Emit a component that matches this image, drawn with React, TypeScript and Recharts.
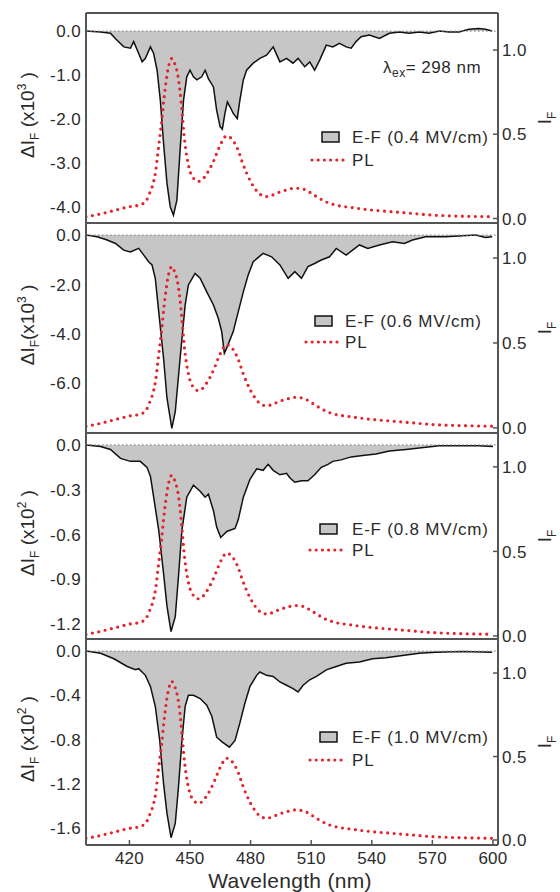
import React from 'react';
import { ComposedChart, Area, Line, XAxis, YAxis, ReferenceLine } from 'recharts';

// ---------- data ----------
const plWl = [398.5, 405, 410, 415, 420, 425, 428, 430, 432, 433, 434, 435, 436, 437, 438, 439, 440, 441, 442, 443, 444, 445, 446, 447, 448, 449, 450, 452, 454, 456, 458, 460, 462, 464, 466, 468, 470, 472, 474, 476, 478, 480, 482, 484, 486, 488, 490, 494, 498, 502, 506, 510, 514, 518, 522, 530, 540, 550, 560, 570, 580, 590, 600];
const plVals = [0.01, 0.025, 0.04, 0.055, 0.07, 0.08, 0.1, 0.15, 0.22, 0.28, 0.38, 0.48, 0.58, 0.7, 0.8, 0.88, 0.93, 0.95, 0.93, 0.9, 0.85, 0.76, 0.64, 0.5, 0.4, 0.33, 0.28, 0.235, 0.22, 0.23, 0.26, 0.3, 0.35, 0.41, 0.46, 0.49, 0.48, 0.45, 0.4, 0.33, 0.27, 0.22, 0.18, 0.15, 0.135, 0.13, 0.135, 0.155, 0.17, 0.18, 0.175, 0.15, 0.12, 0.095, 0.08, 0.065, 0.05, 0.04, 0.03, 0.02, 0.015, 0.012, 0.01];

const wl04 = [398.5, 405.7, 410.6, 413, 417.2, 420.5, 422.1, 424.6, 426.3, 427.9, 430.4, 432, 433.7, 435.3, 436.9, 438.6, 440.2, 441.8, 443.5, 445.1, 446.8, 448.4, 450, 451.7, 453.4, 455.8, 457.5, 459.1, 461.6, 463.2, 464.9, 466, 467.3, 468.5, 469.8, 471.4, 473.4, 474.7, 476.4, 478, 481.3, 484.6, 487.9, 491.2, 494.5, 497.8, 501, 503.5, 506.8, 509.3, 511.7, 514.2, 517.5, 520.7, 524, 527.3, 529.8, 532.2, 534.7, 538.8, 543.8, 548.7, 553.6, 558.6, 563.5, 568.4, 573.4, 578.3, 583.2, 588.1, 593, 596.3, 599.6];
const ef04 = [0, -0.02, -0.05, -0.17, -0.36, -0.39, -0.24, -0.51, -0.7, -0.62, -0.36, -0.51, -0.89, -1.57, -2.55, -3.46, -3.99, -4.18, -3.84, -2.7, -1.57, -1.04, -0.89, -1.04, -1.11, -1.04, -0.89, -1.08, -1.27, -1.8, -2.17, -2.23, -1.87, -1.61, -1.72, -1.87, -1.99, -1.57, -1.11, -0.89, -0.73, -0.62, -0.55, -0.36, -0.7, -0.62, -0.73, -0.62, -0.81, -0.7, -0.89, -0.66, -0.32, -0.36, -0.28, -0.36, -0.39, -0.24, -0.13, -0.09, -0.17, -0.05, -0.02, -0.05, -0.02, -0.05, 0, -0.02, -0.02, 0.04, 0.06, 0.04, 0];

const wl06 = [398.5, 404, 409, 413.1, 417.2, 420.5, 424.6, 427.1, 429.5, 431.2, 432.8, 434.5, 436.9, 438.6, 441, 442.7, 445.1, 447.6, 449.2, 452.5, 455, 458.3, 461.6, 464, 465.7, 467, 468.1, 471.4, 473.9, 476.4, 478.8, 481.3, 486.2, 490.4, 494.5, 498.6, 501.9, 505.2, 508.4, 511.7, 515, 519.1, 522.4, 527.3, 533.9, 538, 543.8, 550.3, 556.1, 560.2, 566.7, 576.6, 584.8, 591.4, 596.3, 599.6];
const ef06 = [0, -0.07, -0.2, -0.34, -0.61, -0.68, -0.54, -0.81, -1.08, -1.21, -1.75, -3.1, -4.99, -6.61, -7.83, -7.15, -4.99, -2.83, -2.02, -1.55, -1.75, -2.3, -2.83, -3.37, -3.91, -4.79, -4.59, -3.91, -3.1, -2.3, -1.62, -1.08, -0.74, -0.88, -1.21, -1.75, -1.48, -1.75, -1.28, -1.15, -1.01, -0.88, -0.54, -0.81, -0.4, -0.54, -0.4, -0.27, -0.34, -0.2, -0.07, -0.07, -0.03, 0, -0.1, -0.07];

const wl08 = [398.5, 405.7, 410.6, 415.6, 420.5, 425.4, 428.7, 430.4, 432, 434.5, 436.9, 438.6, 440.6, 442.7, 444.3, 446, 448.4, 451.7, 455, 457.5, 459.1, 461.6, 463.2, 465.2, 468.2, 472.3, 473.9, 476.4, 479.7, 483, 486.2, 488.7, 491.2, 494.5, 497.8, 499.4, 501.9, 505.2, 508.4, 511.7, 515, 518.3, 520.7, 524.8, 529.8, 535.5, 542.1, 548.7, 556.9, 563.5, 573.4, 583.2, 593, 600];
const ef08 = [0, -0.01, -0.03, -0.09, -0.11, -0.11, -0.15, -0.21, -0.35, -0.57, -0.86, -1.08, -1.25, -1.15, -0.88, -0.57, -0.35, -0.27, -0.31, -0.35, -0.33, -0.44, -0.55, -0.62, -0.58, -0.56, -0.5, -0.35, -0.23, -0.16, -0.17, -0.13, -0.17, -0.2, -0.19, -0.22, -0.25, -0.24, -0.24, -0.2, -0.15, -0.13, -0.11, -0.1, -0.08, -0.07, -0.06, -0.04, -0.03, -0.02, -0.005, -0.005, -0.005, -0.01];

const wl10 = [398.5, 405.7, 412.3, 418.9, 423, 424.6, 427.9, 430.4, 432.8, 435, 436.9, 438.6, 440.6, 442.7, 444.3, 446, 447.6, 449.2, 451.7, 455, 458.3, 460.8, 463.2, 465.7, 469.5, 472.3, 474.7, 477.2, 479.7, 483, 484.6, 487.9, 491.2, 494.5, 497.8, 501, 503.5, 506, 509.3, 512.6, 517.5, 522.4, 527.3, 533.9, 540.4, 547, 555.2, 563.5, 571.7, 584.8, 599.6];
const ef10 = [0, -0.02, -0.07, -0.14, -0.17, -0.16, -0.22, -0.32, -0.5, -0.81, -1.2, -1.47, -1.69, -1.56, -1.23, -0.81, -0.5, -0.4, -0.4, -0.43, -0.49, -0.59, -0.78, -0.82, -0.87, -0.81, -0.65, -0.47, -0.32, -0.22, -0.19, -0.22, -0.23, -0.28, -0.31, -0.34, -0.37, -0.31, -0.26, -0.23, -0.17, -0.14, -0.11, -0.1, -0.07, -0.06, -0.04, -0.02, -0.01, -0.005, -0.01];

const fieldLabels = ['0.4', '0.6', '0.8', '1.0'];
const leftTicks1 = [0, -1, -2, -3, -4];
const leftTicks2 = [0, -2, -4, -6];
const leftTicks3 = [0, -0.3, -0.6, -0.9, -1.2];
const leftTicks4 = [0, -0.4, -0.8, -1.2, -1.6];
const rightTicks = [0, 0.5, 1];
const innerXTicks = [400, 450, 500, 550, 600];
const bottomXTicks = [420, 450, 480, 510, 540, 570, 600];
const exponents = ['3', '3', '2', '2'];

// ---------- styles ----------
const FONT = '"Liberation Sans", Arial, Helvetica, sans-serif';
const TXT = '#2b2b2b';
const AX = '#555';
const RED = '#e4232b';
const GREY = '#c6c6c6';
const X_DOMAIN: [number, number] = [398.5, 602.5];

function buildRows(wl: number[], ef: number[]) {
  const m = new Map<number, any>();
  wl.forEach((x, i) => m.set(x, { x, ef: ef[i] }));
  plWl.forEach((x, i) => {
    const r = m.get(x) || { x };
    r.pl = plVals[i];
    m.set(x, r);
  });
  return Array.from(m.values()).sort((a, b) => a.x - b.x);
}

const panels = [
  { wl: wl04, ef: ef04, ticks: leftTicks1, leftDomain: [-4.36, 0.41], rightDomain: [-0.027, 1.22], top: 13, bottom: 223, space: true },
  { wl: wl06, ef: ef06, ticks: leftTicks2, leftDomain: [-8.02, 0.49], rightDomain: [-0.03, 1.206], top: 223, bottom: 433, space: false },
  { wl: wl08, ef: ef08, ticks: leftTicks3, leftDomain: [-1.3, 0.08], rightDomain: [-0.018, 1.2], top: 433, bottom: 639, space: true },
  { wl: wl10, ef: ef10, ticks: leftTicks4, leftDomain: [-1.756, 0.109], rightDomain: [-0.03, 1.204], top: 639, bottom: 845, space: true },
];

const legendPos = [
  { sw: 322, tx: 352, efY: 137, plY: 160, d0: 312, d1: 343 },
  { sw: 315, tx: 345, efY: 321, plY: 342, d0: 306, d1: 338 },
  { sw: 320, tx: 352, efY: 529, plY: 550, d0: 310, d1: 343 },
  { sw: 320, tx: 352, efY: 737, plY: 760, d0: 310, d1: 342 },
];

const textStyle = { fontFamily: FONT, fill: TXT } as const;

function LeftTick(p: any) {
  return (
    <text x={p.x} y={p.y} dy="0.36em" textAnchor="end" fontSize={17} letterSpacing={0.4} {...textStyle}>
      {Number(p.payload.value).toFixed(1)}
    </text>
  );
}

function RightTick(p: any) {
  return (
    <g>
      <line x1={p.x - 5} x2={p.x + 1} y1={p.y} y2={p.y} stroke={AX} strokeWidth={1.5} />
      <text x={p.x + 4} y={p.y} dy="0.36em" textAnchor="start" fontSize={17} letterSpacing={0.4} {...textStyle}>
        {Number(p.payload.value).toFixed(1)}
      </text>
    </g>
  );
}

function makeXTick(show: boolean) {
  return (p: any) => (
    <g>
      <line x1={p.x} x2={p.x} y1={p.y} y2={p.y - 5} stroke={AX} strokeWidth={1.5} />
      {show && (
        <text x={p.x} y={p.y + 19} textAnchor="middle" fontSize={17} letterSpacing={0.2} {...textStyle}>
          {p.payload.value}
        </text>
      )}
    </g>
  );
}

function makeLeftLabel(exp: string, space: boolean) {
  return (props: any) => {
    const vb = props.viewBox || {};
    const cy = (vb.y || 0) + (vb.height || 0) / 2 - 3;
    return (
      <text transform={`translate(34,${cy}) rotate(-90)`} textAnchor="middle" fontSize={19} {...textStyle}>
        ΔI<tspan dy={5} fontSize={12}>F</tspan>
        <tspan dy={-5}>{space ? ' (x10' : '(x10'}</tspan>
        <tspan dy={-8} fontSize={12}>{exp}</tspan>
        <tspan dy={8}>{' )'}</tspan>
      </text>
    );
  };
}

function rightLabel(props: any) {
  const vb = props.viewBox || {};
  const cy = (vb.y || 0) + (vb.height || 0) / 2;
  return (
    <text transform={`translate(551,${cy}) rotate(-90)`} textAnchor="middle" fontSize={19} {...textStyle}>
      I<tspan dy={5} fontSize={12}>F</tspan>
    </text>
  );
}

function xTitle(props: any) {
  const vb = props.viewBox || {};
  return (
    <text x={(vb.x || 0) + (vb.width || 0) / 2 - 2} y={(vb.y || 0) + 43} textAnchor="middle" fontSize={21} letterSpacing={0.3} {...textStyle}>
      Wavelength (nm)
    </text>
  );
}

function Panel({ idx }: { idx: number }) {
  const p = panels[idx];
  const last = idx === panels.length - 1;
  const rows = buildRows(p.wl, p.ef);
  const chartTop = p.top - 12;
  const plotH = p.bottom - p.top;
  const xh = last ? 47 : 0;
  const height = last ? 892 - chartTop : plotH + 24;
  const mb = last ? 0 : 12;
  return (
    <div style={{ position: 'absolute', left: 0, top: chartTop, width: 560, height }}>
      <ComposedChart width={560} height={height} data={rows} margin={{ top: 12, right: 12, bottom: mb, left: 10 }}>
        <XAxis
          dataKey="x"
          type="number"
          domain={X_DOMAIN}
          ticks={last ? bottomXTicks : innerXTicks}
          interval={0}
          allowDataOverflow
          height={xh}
          axisLine={{ stroke: AX, strokeWidth: 2 }}
          tickLine={false}
          tickSize={0}
          tickMargin={0}
          tick={makeXTick(last)}
          label={last ? xTitle : undefined}
        />
        <YAxis
          yAxisId="l"
          type="number"
          domain={p.leftDomain as [number, number]}
          ticks={p.ticks}
          interval={0}
          allowDataOverflow
          width={76}
          axisLine={{ stroke: AX, strokeWidth: 2 }}
          tickLine={false}
          tickSize={0}
          tickMargin={5}
          tick={LeftTick}
          label={makeLeftLabel(exponents[idx], p.space)}
        />
        <YAxis
          yAxisId="r"
          orientation="right"
          type="number"
          domain={p.rightDomain as [number, number]}
          ticks={rightTicks}
          interval={0}
          allowDataOverflow
          width={50}
          axisLine={{ stroke: AX, strokeWidth: 2 }}
          tickLine={false}
          tickSize={0}
          tickMargin={0}
          tick={RightTick}
          label={rightLabel}
        />
        <Area
          yAxisId="l"
          dataKey="ef"
          type="linear"
          stroke="#111"
          strokeWidth={1.5}
          fill={GREY}
          fillOpacity={1}
          baseValue={0}
          connectNulls
          dot={false}
          activeDot={false}
          isAnimationActive={false}
        />
        <ReferenceLine yAxisId="l" y={0} stroke="#8a8a8a" strokeWidth={1.2} strokeDasharray="1.5 2.5" />
        <ReferenceLine yAxisId="r" y={p.rightDomain[1]} stroke={AX} strokeWidth={2} />
        <Line
          yAxisId="r"
          dataKey="pl"
          type="monotone"
          stroke={RED}
          strokeWidth={3.2}
          strokeDasharray="0 6.5"
          strokeLinecap="round"
          connectNulls
          dot={false}
          activeDot={false}
          isAnimationActive={false}
        />
      </ComposedChart>
    </div>
  );
}

function Overlay() {
  return (
    <svg width={560} height={892} style={{ position: 'absolute', left: 0, top: 0, pointerEvents: 'none' }}>
      {legendPos.map((l, i) => (
        <g key={i}>
          <rect x={l.sw} y={l.efY - 5} width={17} height={10} fill={GREY} stroke="#111" strokeWidth={1.5} />
          <text x={l.tx} y={l.efY + 6} fontSize={17} letterSpacing={0.8} {...textStyle}>
            {`E-F (${fieldLabels[i]} MV/cm)`}
          </text>
          <line x1={l.d0} x2={l.d1} y1={l.plY} y2={l.plY} stroke={RED} strokeWidth={3.2} strokeDasharray="0 6.2" strokeLinecap="round" />
          <text x={l.tx} y={l.plY + 6} fontSize={17} letterSpacing={0.8} {...textStyle}>
            PL
          </text>
        </g>
      ))}
      <text x={383} y={73} fontSize={17} letterSpacing={0.5} {...textStyle}>
        λ<tspan dy={4} fontSize={12}>ex</tspan>
        <tspan dy={-4}>= 298 nm</tspan>
      </text>
    </svg>
  );
}

export default function App() {
  return (
    <div style={{ position: 'relative', width: 560, height: 892, overflow: 'hidden', background: '#fff' }}>
      <style>{'body{margin:0;overflow:hidden;}'}</style>
      {panels.map((_, i) => (
        <Panel key={i} idx={i} />
      ))}
      <Overlay />
    </div>
  );
}
